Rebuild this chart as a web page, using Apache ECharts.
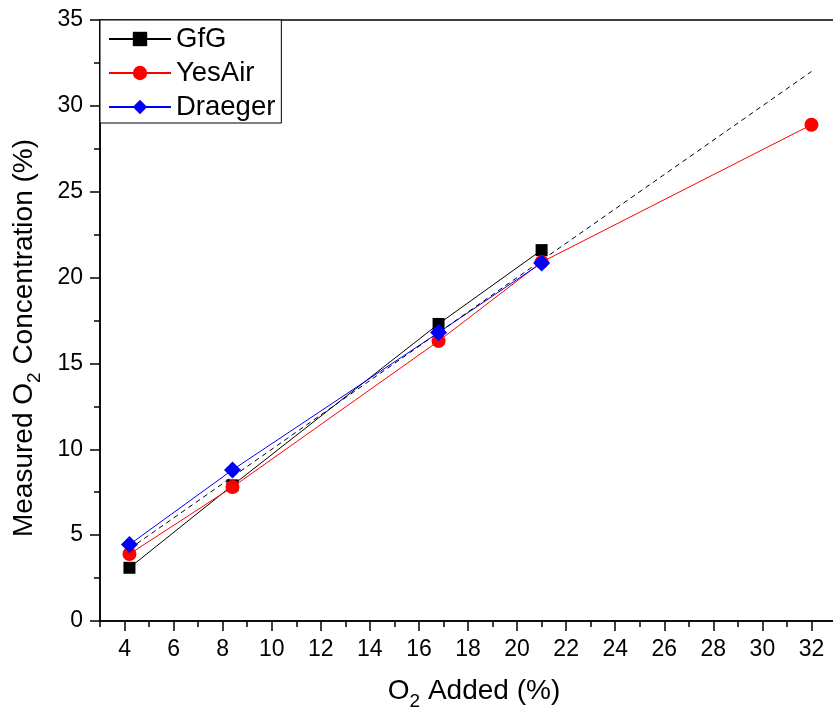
<!DOCTYPE html>
<html>
<head>
<meta charset="utf-8">
<script src="https://cdn.jsdelivr.net/npm/echarts@6/dist/echarts.min.js"></script>
<style>
html,body{margin:0;padding:0;background:#fff;}
#chart{width:833px;height:713px;}
</style>
</head>
<body>
<div id="chart"></div>
<script>
// Data
const o2Added = [4.2, 8.4, 16.8, 21, 32];
const gfgValues = [3.1, 7.9, 17.3, 21.6];
const yesAirValues = [3.9, 7.8, 16.3, 20.9, 28.9];
const draegerValues = [4.45, 8.8, 16.8, 20.85];
const idealX = [4.2, 32];
const idealY = [4.2, 32];
const seriesNames = ['GfG', 'YesAir', 'Draeger'];
const xMajorTicks = [4, 6, 8, 10, 12, 14, 16, 18, 20, 22, 24, 26, 28, 30, 32];
const xMinorTicks = [3, 5, 7, 9, 11, 13, 15, 17, 19, 21, 23, 25, 27, 29, 31, 33];

const FONT = 'Liberation Sans, Arial, sans-serif';
const pair = (xs, ys) => ys.map((y, i) => [xs[i], y]);

const titleRich = {
  n: { fontSize: 28, lineHeight: 40, fontFamily: FONT, color: '#000' },
  s: { fontSize: 19, lineHeight: 16, verticalAlign: 'bottom', fontFamily: FONT, color: '#000' }
};

const chart = echarts.init(document.getElementById('chart'));
chart.setOption({
  animation: false,
  backgroundColor: '#fff',
  grid: {
    left: 100, right: -3, top: 20, bottom: 92,
    outerBoundsMode: 'none',
    containLabel: false,
    show: true, borderColor: '#000', borderWidth: 1.5, backgroundColor: 'transparent'
  },
  legend: {
    data: seriesNames,
    orient: 'vertical',
    left: 100, top: 20,
    padding: [5, 6, 2, 8],
    itemGap: 6,
    itemWidth: 62,
    itemHeight: 18,
    backgroundColor: '#fff',
    borderColor: '#000',
    borderWidth: 1,
    borderRadius: 0,
    z: 10,
    textStyle: { fontSize: 27.5, lineHeight: 26, fontFamily: FONT, color: '#000' }
  },
  xAxis: [{
    type: 'value',
    position: 'bottom',
    min: 3, max: 33,
    splitLine: { show: false },
    axisLine: { show: true, onZero: false, lineStyle: { color: '#000', width: 1.5 } },
    axisTick: { show: true, customValues: xMajorTicks, length: 10, inside: false, lineStyle: { color: '#000', width: 1.5 } },
    axisLabel: { customValues: xMajorTicks, margin: 17, fontSize: 23, fontFamily: FONT, color: '#000' },
    name: '{n|O}{s|2}{n| Added (%)}',
    nameLocation: 'middle',
    nameGap: 50,
    nameTextStyle: { rich: titleRich, padding: [0, 0, 0, 12] }
  }, {
    type: 'value',
    position: 'bottom',
    min: 3, max: 33,
    splitLine: { show: false },
    axisLine: { show: false, onZero: false },
    axisTick: { show: true, customValues: xMinorTicks, length: 6, inside: false, lineStyle: { color: '#000', width: 1.5 } },
    axisLabel: { show: false }
  }],
  yAxis: {
    type: 'value',
    min: 0, max: 35, interval: 5,
    splitLine: { show: false },
    axisLine: { show: true, onZero: false, lineStyle: { color: '#000', width: 1.5 } },
    axisTick: { show: true, length: 10, inside: false, lineStyle: { color: '#000', width: 1.5 } },
    minorTick: { show: true, splitNumber: 2, length: 6, lineStyle: { color: '#000', width: 1.5 } },
    axisLabel: { margin: 17, fontSize: 23, fontFamily: FONT, color: '#000' },
    name: '{n|Measured O}{s|2}{n| Concentration (%)}',
    nameLocation: 'middle',
    nameRotate: 90,
    nameGap: 56,
    nameTextStyle: { rich: titleRich, padding: [0, 35, 0, 0] }
  },
  series: [{
    name: seriesNames[0],
    type: 'line',
    data: pair(o2Added, gfgValues),
    symbol: 'rect', symbolSize: 12,
    itemStyle: { color: '#000' },
    lineStyle: { color: '#000', width: 1 }
  }, {
    name: seriesNames[1],
    type: 'line',
    data: pair(o2Added, yesAirValues),
    symbol: 'circle', symbolSize: 14,
    itemStyle: { color: '#ff0000' },
    lineStyle: { color: '#ff0000', width: 1 }
  }, {
    name: seriesNames[2],
    type: 'line',
    data: pair(o2Added, draegerValues),
    symbol: 'diamond', symbolSize: 17,
    itemStyle: { color: '#0000ff' },
    lineStyle: { color: '#0000ff', width: 1 }
  }, {
    name: 'ideal',
    type: 'line',
    data: pair(idealX, idealY),
    symbol: 'none',
    silent: true,
    lineStyle: { color: '#000', width: 1, type: [5, 4] }
  }]
});
</script>
</body>
</html>
